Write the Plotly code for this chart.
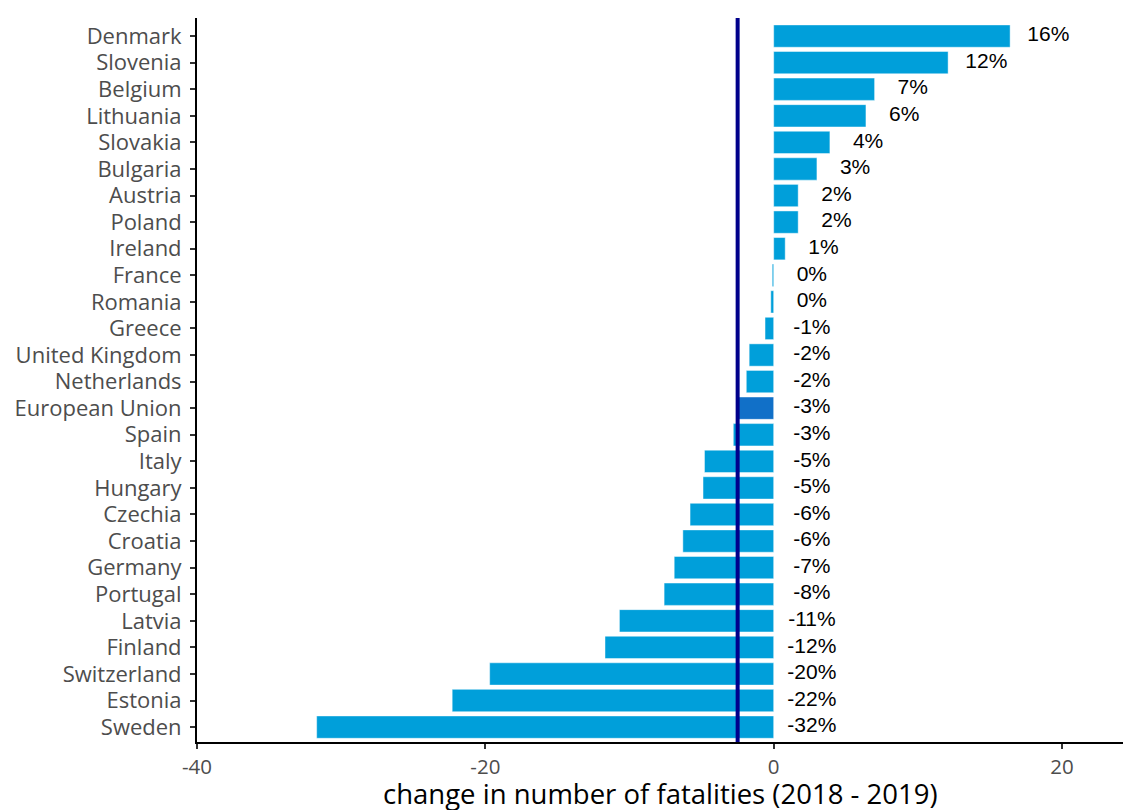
import plotly.graph_objects as go

countries = ["Denmark", "Slovenia", "Belgium", "Lithuania", "Slovakia", "Bulgaria",
             "Austria", "Poland", "Ireland", "France", "Romania", "Greece",
             "United Kingdom", "Netherlands", "European Union", "Spain", "Italy",
             "Hungary", "Czechia", "Croatia", "Germany", "Portugal", "Latvia",
             "Finland", "Switzerland", "Estonia", "Sweden"]
values = [16.4, 12.1, 7.0, 6.4, 3.9, 3.0, 1.7, 1.7, 0.8, -0.1, -0.2, -0.6,
          -1.7, -1.9, -2.55, -2.8, -4.8, -4.9, -5.8, -6.3, -6.9, -7.6, -10.7,
          -11.7, -19.7, -22.3, -31.7]
labels = ["16%", "12%", "7%", "6%", "4%", "3%", "2%", "2%", "1%", "0%", "0%", "-1%",
          "-2%", "-2%", "-3%", "-3%", "-5%", "-5%", "-6%", "-6%", "-7%", "-8%", "-11%",
          "-12%", "-20%", "-22%", "-32%"]
eu_mean = -2.5
x_ticks = [-40, -20, 0, 20]
x_ticktext = ["-40", "-20", "0", "20"]
x_title = "change in number of fatalities (2018 - 2019)"

n = len(countries)
colors = ["#1170c8" if c == "European Union" else "#009fda" for c in countries]
label_x = [max(v, 0) + 2.65 for v in values]

fig = go.Figure()
fig.add_trace(go.Bar(
    x=values, y=countries, orientation="h",
    marker=dict(color=colors, line=dict(color="rgba(255,255,255,0.45)", width=1)),
    hoverinfo="x+y", showlegend=False,
))
fig.add_trace(go.Scatter(
    x=label_x, y=countries, mode="text", text=labels,
    textposition="middle center", cliponaxis=False,
    textfont=dict(family="Liberation Sans, Arial", size=21, color="black"),
    showlegend=False, hoverinfo="skip",
))
fig.add_shape(type="line", x0=eu_mean, x1=eu_mean, xref="x", yref="paper", y0=0, y1=1,
              line=dict(color="#00008b", width=4))
fig.add_annotation(text=x_title, xref="paper", yref="paper", x=0.5, y=-0.043,
                   xanchor="center", yanchor="top", showarrow=False,
                   font=dict(family="Open Sans", size=27.5, color="black"))

fig.update_layout(
    width=1123, height=810,
    margin=dict(l=197, r=0, t=18, b=68, autoexpand=False),
    plot_bgcolor="white", paper_bgcolor="white",
    bargap=0.16,
    font=dict(family="Open Sans", color="#4d4d4d"),
    xaxis=dict(
        range=[-40, 24.23], tickmode="array", tickvals=x_ticks, ticktext=x_ticktext,
        ticks="outside", ticklen=5, tickwidth=2,
        tickcolor="#333", showline=True, linecolor="black", linewidth=2,
        showgrid=False, zeroline=False, automargin=False,
        tickfont=dict(family="Open Sans", size=20.5, color="#4d4d4d"),
    ),
    yaxis=dict(
        categoryorder="array", categoryarray=countries,
        tickmode="array", tickvals=countries, ticktext=countries,
        range=[n - 1 + 0.56, -0.68], automargin=False,
        ticks="outside", ticklen=5, tickwidth=2, tickcolor="#333",
        ticklabelstandoff=4,
        showline=True, linecolor="black", linewidth=2, showgrid=False, zeroline=False,
        tickfont=dict(family="Open Sans", size=22, color="#4d4d4d"),
    ),
)

fig.write_html("out.html", config={"displayModeBar": False},
               post_script="document.body.style.margin='0px';document.body.style.overflow='hidden';")
